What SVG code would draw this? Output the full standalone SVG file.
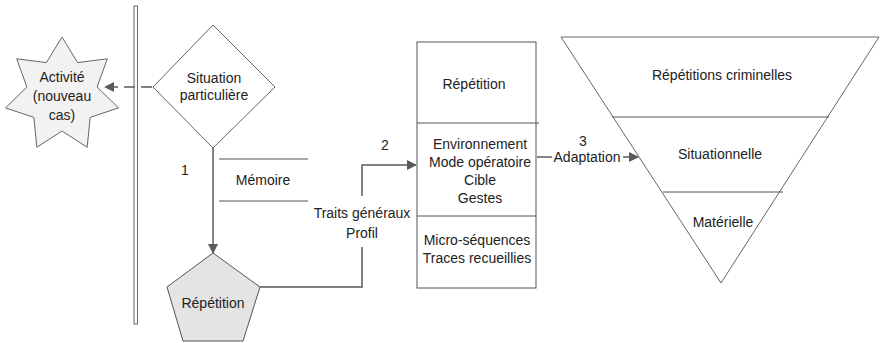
<svg xmlns="http://www.w3.org/2000/svg" width="880" height="343" viewBox="0 0 880 343">
<style>
text{font-family:"Liberation Sans",Arial,sans-serif;font-size:14px;fill:#222;text-anchor:middle}
.shape{stroke:#666;stroke-width:1;fill:#fff}
.conn{stroke:#5a5a5a;stroke-width:1.5;fill:none}
.thin{stroke:#555;stroke-width:1;fill:none}
</style>
<defs>
<marker id="ah" markerWidth="10" markerHeight="10" refX="9" refY="5" orient="auto" markerUnits="userSpaceOnUse">
<path d="M0,0 L10,5 L0,10 Z" fill="#5a5a5a"/>
</marker>
</defs>
<rect width="880" height="343" fill="#fff"/>
<g id="bar"><rect x="134" y="6" width="3.5" height="318" fill="#fff" stroke="#666" stroke-width="1"/></g>
<g id="star">
<polygon class="shape" style="fill:#f2f2f2" points="62,37 77.6,62.6 107.3,58.8 97.1,87 118.5,107.9 90.1,117.4 87.2,147.3 62,131 36.8,147.3 33.9,117.4 5.5,107.9 26.9,87 16.7,58.8 46.4,62.6"/>
<text x="62" y="82">Activité</text>
<text x="62" y="101">(nouveau</text>
<text x="62" y="120">cas)</text>
</g>
<g id="situation">
<polygon class="shape" points="213,25 275,87 213,148 153,87"/>
<text x="214" y="83">Situation</text>
<text x="214" y="100">particulière</text>
</g>
<g id="repetition-pentagon">
<polygon class="shape" style="fill:#e4e4e4;stroke:#555" points="213,253 260,287 243,341 183,341 167,287"/>
<text x="213" y="308">Répétition</text>
</g>
<g id="memoire">
<line class="thin" x1="219" y1="159" x2="308" y2="159"/>
<line class="thin" x1="219" y1="201" x2="308" y2="201"/>
<text x="263" y="185">Mémoire</text>
</g>
<g id="box">
<rect x="417" y="42" width="119" height="246" fill="#fff" stroke="#555" stroke-width="1"/>
<line class="thin" x1="417" y1="123" x2="539" y2="123"/>
<line class="thin" x1="417" y1="216" x2="536" y2="216"/>
<text x="474" y="89">Répétition</text>
<text x="480" y="149">Environnement</text>
<text x="480" y="167">Mode opératoire</text>
<text x="480" y="185">Cible</text>
<text x="480" y="203">Gestes</text>
<text x="477" y="245">Micro-séquences</text>
<text x="477" y="263">Traces recueillies</text>
</g>
<g id="triangle">
<polygon class="shape" points="561,37 879,37 721,283"/>
<line class="thin" x1="612" y1="117" x2="829" y2="117"/>
<line class="thin" x1="663" y1="192" x2="783" y2="192"/>
<text x="722" y="80">Répétitions criminelles</text>
<text x="720" y="159">Situationnelle</text>
<text x="723" y="227">Matérielle</text>
</g>
<g id="connectors">
<line class="conn" x1="152" y1="87" x2="105" y2="87" stroke-dasharray="11,6" marker-end="url(#ah)"/>
<line class="conn" x1="213" y1="148" x2="213" y2="253" marker-end="url(#ah)"/>
<text x="185" y="175">1</text>
<polyline class="conn" points="260,287 362,287 362,247"/>
<polyline class="conn" points="362,196 362,165 416,165" marker-end="url(#ah)"/>
<text x="362" y="218">Traits généraux</text>
<text x="362" y="238">Profil</text>
<text x="385" y="150">2</text>
<line class="conn" x1="537" y1="157" x2="552" y2="157"/>
<line class="conn" x1="623" y1="157" x2="638" y2="157" marker-end="url(#ah)"/>
<text x="583" y="146">3</text>
<text x="587" y="162">Adaptation</text>
</g>
</svg>
